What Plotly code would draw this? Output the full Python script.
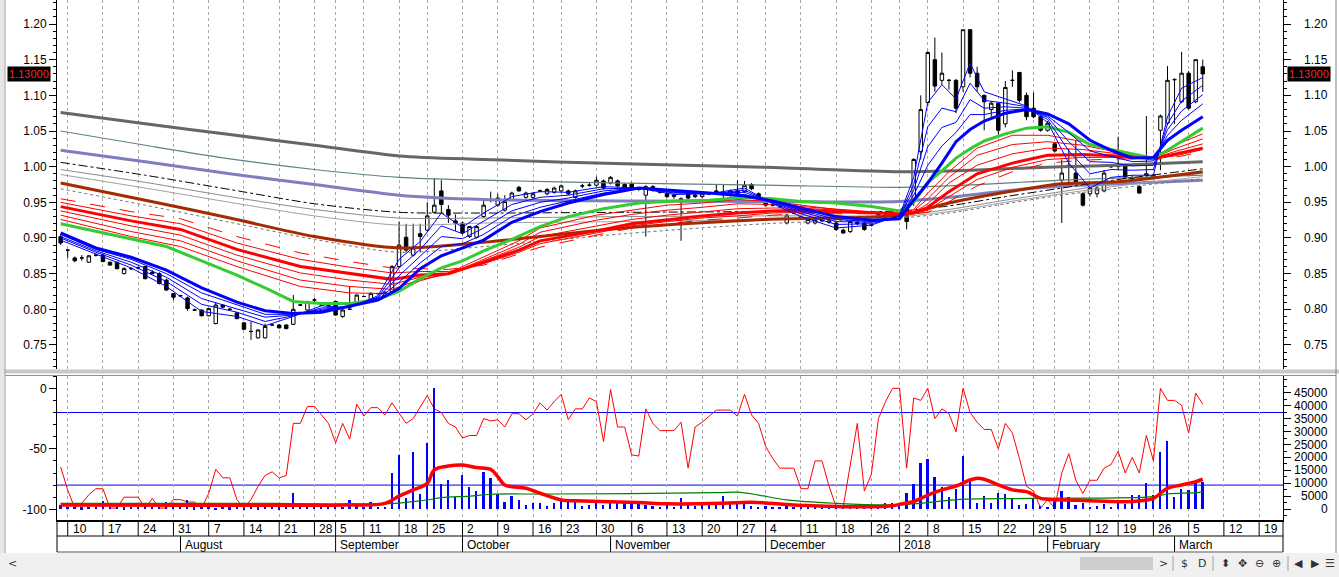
import plotly.graph_objects as go

# ---------------- DATA ----------------
# bar index (trading-day slot) 0..162 ; 0 = 7 Jul 2017, 162 = 7 Mar 2018
bar_open = [.902,.883,.872,.872,.866,.876,.876,.866,.866,.850,.857,.858,.860,.852,.850,.841,.822,.819,.816,.799,
            .799,.791,.780,.806,.800,.795,.781,.769,.760,.760,.778,.778,.778,.779,.806,.799,.813,.806,.805,.811,
            .790,.800,.808,.818,.811,.822,.818,.822,.860,.901,.876,.906,.911,.936,.966,.940,.924,.921,.902,.901,
            .930,.953,.946,.939,.954,.971,.957,.957,.966,.962,.964,.966,.966,.957,.973,.974,.974,.980,.977,.980,
            .975,.976,.968,.960,.972,.964,.962,.958,.955,.962,.958,.958,.962,.966,.963,.960,.966,.965,.975,.962,
            .953,.946,.944,.921,.935,.930,.921,.921,.925,.924,.921,.911,.909,.922,.921,.918,.930,.932,.935,.933,
            .946,.953,1.021,1.090,1.150,1.121,1.121,1.121,1.112,1.192,1.131,1.100,1.080,1.089,1.060,1.121,1.132,1.100,1.082,1.070,
            1.051,1.032,.981,1.002,.991,.962,.962,.962,.966,1.000,1.000,1.002,.985,.972,.988,.984,1.051,1.061,1.122,1.091,
            1.131,1.091,1.140]
bar_high = [.905,.884,.874,.876,.876,.878,.878,.867,.867,.859,.859,.860,.861,.855,.852,.843,.823,.820,.818,.801,
            .800,.802,.810,.807,.802,.796,.782,.783,.772,.780,.779,.779,.779,.820,.807,.812,.816,.807,.806,.812,
            .801,.832,.821,.819,.824,.823,.825,.862,.923,.920,.920,.920,.950,.984,.981,.946,.933,.923,.917,.917,
            .955,.965,.962,.960,.965,.973,.965,.964,.968,.970,.972,.975,.968,.968,.976,.977,.986,.982,.987,.982,
            .977,.978,.970,.974,.974,.966,.964,.962,.957,.964,.962,.963,.964,.975,.975,.968,.981,.980,.977,.964,
            .955,.948,.946,.934,.937,.932,.928,.928,.927,.926,.923,.913,.924,.925,.923,.920,.937,.934,.937,.936,
            .948,1.012,1.100,1.162,1.181,1.160,1.123,1.123,1.192,1.192,1.140,1.101,1.092,1.090,1.120,1.135,1.133,1.104,1.104,1.072,
            1.064,1.034,1.010,1.025,1.037,.964,.972,.972,.995,1.002,1.042,1.004,.988,.974,1.071,.990,1.073,1.141,1.124,1.161,
            1.134,1.150,1.150]
bar_low = [.890,.872,.866,.868,.865,.874,.866,.861,.856,.849,.855,.856,.842,.849,.835,.826,.813,.818,.798,.798,
           .790,.790,.779,.802,.799,.786,.771,.757,.759,.759,.777,.773,.772,.778,.805,.798,.809,.805,.804,.791,
           .788,.799,.806,.817,.810,.821,.817,.820,.858,.880,.874,.880,.909,.934,.935,.921,.910,.905,.900,.899,
           .928,.950,.944,.937,.952,.965,.955,.955,.964,.960,.962,.964,.960,.955,.970,.972,.972,.968,.975,.971,
           .968,.969,.966,.902,.965,.962,.956,.955,.896,.954,.956,.956,.960,.962,.950,.958,.960,.963,.967,.954,
           .944,.944,.942,.919,.933,.926,.919,.919,.922,.920,.910,.906,.907,.918,.910,.916,.928,.930,.933,.930,
           .912,.945,1.010,1.085,1.105,1.115,1.108,1.075,1.105,1.125,1.105,1.051,1.070,1.045,1.055,1.112,1.090,1.065,1.068,1.049,
           1.049,1.020,.921,.975,.977,.944,.958,.957,.964,.998,.996,.982,.980,.962,.985,.982,.995,1.058,1.060,1.089,
           1.080,1.089,1.105]
bar_close = [.893,.883,.868,.872,.875,.876,.867,.862,.857,.857,.857,.858,.843,.850,.836,.827,.817,.819,.801,.799,
             .791,.801,.806,.803,.800,.787,.772,.769,.771,.776,.778,.774,.773,.800,.806,.811,.813,.806,.805,.792,
             .799,.800,.820,.818,.822,.822,.824,.860,.890,.883,.886,.902,.931,.946,.947,.932,.921,.907,.916,.916,
             .946,.953,.956,.951,.963,.966,.963,.962,.966,.968,.970,.973,.962,.966,.973,.974,.981,.970,.985,.973,
             .970,.971,.968,.972,.967,.964,.958,.960,.950,.956,.960,.962,.962,.963,.963,.966,.962,.974,.969,.955,
             .946,.946,.944,.932,.935,.928,.926,.926,.924,.922,.912,.907,.923,.920,.912,.918,.933,.932,.935,.933,
             .923,1.010,1.080,1.160,1.113,1.131,1.121,1.082,1.192,1.131,1.112,1.091,1.089,1.051,1.111,1.121,1.093,1.070,1.070,1.051,
             1.061,1.022,.991,1.000,.979,.946,.970,.970,.991,1.000,1.002,.984,.983,.963,.990,.988,1.071,1.121,1.122,1.131,
             1.082,1.150,1.130]

williams_r = [-65,-84,-99,-95,-88,-83,-83,-99,-99,-90,-90,-90,-99,-91,-99,-99,-92,-92,-94,-94,
              -99,-87,-67,-74,-74,-92,-99,-92,-81,-72,-69,-74,-72,-29,-29,-15,-15,-22,-29,-45,
              -29,-42,-13,-23,-16,-16,-22,-12,-20,-29,-25,-15,-6,-17,-20,-29,-32,-41,-39,-39,
              -25,-27,-26,-32,-21,-21,-26,-21,-12,-18,-11,-5,-26,-17,-17,-8,-11,-44,-1,-32,
              -32,-55,-56,-17,-29,-35,-35,-35,-28,-66,-32,-28,-23,-18,-18,-18,-23,-5,-22,-29,
              -48,-58,-66,-66,-66,-83,-83,-60,-60,-81,-98,-98,-65,-29,-85,-71,-25,-11,0,0,
              -66,-8,-10,0,-25,-17,-21,-36,0,-20,-28,-34,-34,-50,-29,-37,-58,-81,-85,-99,
              -92,-99,-70,-54,-76,-87,-76,-76,-66,-63,-52,-70,-57,-70,-39,-60,0,-10,-10,-14,
              -37,-4,-13]

volume = [1700,800,900,700,900,800,3200,800,2300,700,900,1000,1700,800,900,3000,1500,900,3600,700,
          800,900,600,800,700,900,600,800,700,900,800,700,900,6400,2600,800,900,1000,1200,1600,
          900,3600,1200,900,3000,800,1000,14100,21000,4200,22200,5900,25500,46700,9800,11300,4900,13200,8700,7200,
          14500,12000,5800,3000,5100,3600,1700,2300,2600,1300,2300,3300,3000,3900,1300,1700,3600,1700,2600,2600,
          2300,2300,2600,1700,1300,1000,2300,1000,4500,1900,1300,2600,1700,3000,5100,2600,3000,2300,1300,1000,
          1300,1000,800,1700,800,1000,800,1300,1000,1700,1300,1000,1000,1300,800,1300,1700,2300,2600,1700,
          6400,9800,18000,19300,12600,8500,4900,7700,20600,11600,2300,5100,2300,6400,5900,4200,1700,2100,4200,1300,
          1000,3900,7200,4900,1700,2600,800,1300,2100,1000,2300,2100,5500,5500,10000,5500,22200,26500,4600,7700,
          7500,10300,10700]

# moving averages at sample bars
ma_fast_idx = [0,5,10,15,20,25,29,33,37,41,45,48,51,54,57,60,64,68,72,77,82,87,92,97,101,105,110,115,119,
               121,123,125,127,129,131,134,137,140,143,146,149,152,155,157,159,162]
blue_1 = [.897,.877,.858,.832,.797,.790,.777,.790,.805,.802,.819,.870,.895,.935,.915,.935,.958,.965,.964,.972,
          .970,.961,.962,.970,.948,.930,.914,.918,.932,.985,1.090,1.115,1.095,1.145,1.105,1.095,1.085,1.062,1.005,.970,
          .985,.988,.988,1.070,1.110,1.125]
blue_2 = [.900,.880,.862,.839,.807,.796,.783,.791,.802,.803,.817,.858,.884,.917,.906,.924,.947,.957,.960,.969,
          .970,.963,.962,.967,.949,.934,.919,.920,.931,.975,1.056,1.082,1.077,1.117,1.093,1.089,1.084,1.066,1.022,.990,
          .996,.995,.996,1.060,1.092,1.114]
blue_3 = [.902,.882,.866,.845,.815,.801,.789,.792,.800,.804,.816,.847,.874,.902,.899,.914,.938,.950,.956,.966,
          .970,.964,.963,.964,.950,.937,.923,.922,.930,.967,1.028,1.055,1.062,1.094,1.082,1.084,1.082,1.069,1.035,1.007,
          1.006,1.001,1.002,1.052,1.078,1.101]
blue_4 = [.905,.884,.870,.850,.823,.806,.793,.793,.798,.804,.814,.838,.865,.888,.892,.905,.930,.943,.952,.963,
          .970,.966,.963,.961,.951,.939,.926,.923,.928,.960,1.002,1.029,1.048,1.073,1.073,1.079,1.081,1.071,1.048,1.022,
          1.015,1.007,1.008,1.044,1.065,1.088]
blue_thick = [.907,.886,.873,.855,.830,.810,.798,.794,.796,.805,.813,.829,.857,.875,.886,.897,.922,.937,.949,.961,
              .970,.967,.963,.959,.952,.942,.930,.925,.927,.953,.977,1.005,1.035,1.052,1.064,1.075,1.080,1.074,1.060,1.037,
              1.023,1.012,1.013,1.037,1.051,1.070]
green_ma = [.920,.909,.898,.888,.868,.848,.830,.811,.808,.808,.814,.825,.843,.858,.868,.882,.898,.916,.930,.941,
            .949,.952,.953,.957,.955,.951,.949,.944,.938,.950,.978,.994,1.012,1.025,1.036,1.046,1.054,1.056,1.048,1.031,
            1.024,1.018,1.012,1.023,1.035,1.054]

ma_mid_idx = [0,10,17,25,34,41,47,51,55,60,65,68,76,81,86,91,96,101,105,110,115,119,121,123,126,130,135,140,145,150,155,158,162]
red_1 = [.955,.937,.927,.902,.879,.867,.858,.857,.856,.862,.877,.887,.904,.914,.920,.925,.928,.932,.934,.934,.934,.934,.934,.936,.951,.973,.993,1.005,1.009,1.011,1.010,1.013,1.021]
red_2 = [.950,.931,.920,.893,.870,.859,.851,.853,.853,.864,.880,.892,.907,.917,.923,.928,.931,.935,.936,.936,.935,.934,.934,.939,.958,.982,.999,1.010,1.013,1.013,1.011,1.015,1.024]
red_3 = [.944,.924,.912,.884,.860,.850,.842,.848,.850,.866,.883,.896,.910,.920,.926,.931,.935,.938,.939,.937,.935,.934,.935,.943,.965,.990,1.005,1.016,1.017,1.015,1.011,1.017,1.026]
red_4 = [.938,.917,.904,.876,.851,.841,.835,.845,.849,.868,.887,.902,.917,.926,.932,.937,.941,.942,.942,.939,.936,.934,.936,.948,.977,1.002,1.018,1.026,1.024,1.018,1.012,1.021,1.032]
red_5 = [.932,.909,.896,.868,.841,.832,.828,.842,.849,.870,.891,.908,.925,.933,.939,.943,.948,.947,.944,.940,.936,.934,.938,.955,.985,1.016,1.031,1.035,1.030,1.020,1.012,1.025,1.039]
red_6 = [.926,.902,.888,.860,.832,.823,.822,.840,.851,.874,.896,.914,.932,.939,.946,.949,.954,.951,.946,.940,.935,.934,.940,.963,.993,1.026,1.044,1.044,1.035,1.021,1.013,1.030,1.046]

ma_slow_idx = [0,12,24,36,48,60,80,100,119,126,134,142,150,162]
gray_dark = [1.076,1.060,1.045,1.030,1.015,1.010,1.004,.999,.993,.994,.997,1.000,1.002,1.007]
gray_slate = [1.050,1.030,1.011,.996,.985,.981,.977,.974,.971,.973,.977,.981,.984,.988]
lavender = [1.023,1.007,.990,.975,.960,.954,.952,.951,.951,.957,.966,.973,.976,.981]
dashdot = [1.006,.988,.968,.948,.936,.935,.936,.937,.938,.945,.958,.970,.982,.997]
gray_a = [.996,.978,.958,.940,.928,.928,.930,.931,.932,.940,.953,.965,.977,.991]
gray_b = [.989,.970,.950,.931,.918,.921,.923,.926,.930,.937,.950,.962,.973,.986]
gray_dot = [.969,.946,.922,.898,.880,.888,.906,.920,.928,.935,.948,.960,.970,.983]
brown = [.977,.953,.928,.902,.886,.894,.914,.926,.932,.949,.964,.976,.979,.993]

vma_red_idx = [0,20,40,46,48,50,52,53,55,57,59,61,62,63,66,68,71,73,82,86,94,98,104,108,111,118,119,121,123,125,
               127,129,130,131,133,135,137,139,140,143,147,152,154,155,157,159,161,162]
vma_red = [1700,1600,1700,2300,5100,7500,10000,15200,16700,17100,16100,15400,12600,9400,8100,6200,3600,3300,2600,2100,
           2300,2700,1700,1300,1000,1400,1900,3000,5500,7500,9000,11300,12000,11600,9400,7500,6800,4200,3900,3600,
           3200,3000,3600,4200,8100,9400,10700,11600]
vma_green_idx = [0,30,46,50,52,54,58,61,70,93,96,99,103,110,118,122,123,128,138,155,157,161,162]
vma_green = [2300,2300,2100,3000,3600,4500,5100,5800,5900,6400,6600,5500,3600,2300,1700,2300,2600,3900,4200,4900,5900,6400,6800]

day_idx = [1,6,11,16,21,26,31,36,39,43,48,52,57,62,67,71,76,81,86,91,96,100,105,110,115,119,123,128,133,138,
           141,146,150,155,160,165,170]
day_lab = ["10","17","24","31","7","14","21","28","5","11","18","25","2","9","16","23","30","6","13","20","27",
           "4","11","18","26","2","8","15","22","29","5","12","19","26","5","12","19"]
month_idx = [17,39,57,78,100,119,140,158]
month_lab = ["August","September","October","November","December","2018","February","March"]

price_ticks = [0.75,0.80,0.85,0.90,0.95,1.00,1.05,1.10,1.15,1.20]
wr_ticks = [0,-50,-100]
vol_ticks = [0,5000,10000,15000,20000,25000,30000,35000,40000,45000]
last_label = "1.13000"

# ---------------- LAYOUT GEOMETRY ----------------
W, H = 1339, 577
ML, MR, MT, MB = 57, 56, 0, 57
PW, PH = W - ML - MR, H - MT - MB
SLOT, FIRST = 7.05, 60.65          # px per trading slot, px centre of slot 0


def pxx(px):
    return (px - ML) / PW


def pxy(py):
    return (PH + MT - py) / PH


X0, X1 = (ML - FIRST) / SLOT, (W - MR - FIRST) / SLOT
P_TOP, P_Y0, P_PX = 1.20, 24.0, 713.3   # price scale: 1.20 at y=24px, 713.3 px per unit
PMAX = P_TOP + P_Y0 / P_PX
PMIN = P_TOP - (369 - P_Y0) / P_PX
TOP_DOM = [pxy(369), 1]
BOT_DOM = [0, pxy(376)]
WR_RANGE = [-(520 - 388.3) / 1.21, (388.3 - 376) / 1.21]
VOL_RANGE = [(509.3 - 520) / 116.6 * 45000, (509.3 - 376) / 116.6 * 45000]

bars = list(range(len(bar_close)))

fig = go.Figure()


def ma(xs, ys, color, width, dash=None, shape="linear"):
    fig.add_trace(go.Scatter(x=xs, y=ys, mode="lines", xaxis="x", yaxis="y", hoverinfo="skip",
                             line=dict(color=color, width=width, dash=dash, shape=shape, smoothing=0.8)))


ma(ma_slow_idx, gray_dark, "#666666", 3, shape="spline")
ma(ma_slow_idx, gray_slate, "#5f8080", 1.2, shape="spline")
ma(ma_slow_idx, lavender, "#7f7fc0", 3, shape="spline")
ma(ma_slow_idx, dashdot, "#000000", 1, dash="dashdot", shape="spline")
ma(ma_slow_idx, gray_a, "#8c8c8c", 1, shape="spline")
ma(ma_slow_idx, gray_b, "#a0a0a0", 1, shape="spline")
ma(ma_slow_idx, gray_dot, "#707070", 1, dash="dot", shape="spline")
ma(ma_slow_idx, brown, "#a52a00", 3, shape="spline")
ma(ma_mid_idx, red_1, "#ff0000", 1, dash="longdash")
for r in (red_2, red_4, red_5, red_6):
    ma(ma_mid_idx, r, "#ff0000", 1)
ma(ma_mid_idx, red_3, "#ff0000", 3)
ma(ma_fast_idx, green_ma, "#33cc33", 3)
for b in (blue_1, blue_2, blue_3, blue_4):
    ma(ma_fast_idx, b, "#0000ff", 1)
ma(ma_fast_idx, blue_thick, "#0000ff", 3)

fig.add_trace(go.Candlestick(x=bars, open=bar_open, high=bar_high, low=bar_low, close=bar_close,
                             xaxis="x", yaxis="y", whiskerwidth=0, hoverinfo="skip",
                             increasing=dict(line=dict(color="black", width=1), fillcolor="white"),
                             decreasing=dict(line=dict(color="black", width=1), fillcolor="black")))
fig.add_trace(go.Scatter(x=[bars[-1]], y=[bar_close[-1]], xaxis="x", yaxis="y3", mode="markers",
                         marker=dict(opacity=0), hoverinfo="skip"))

# lower panel
fig.add_trace(go.Scatter(x=bars, y=williams_r, xaxis="x2", yaxis="y2", mode="lines",
                         line=dict(color="#ff0000", width=1), hoverinfo="skip"))
fig.add_trace(go.Bar(x=bars, y=volume, xaxis="x2", yaxis="y4", width=0.25,
                     marker=dict(color="#0000ff", line=dict(width=0)), hoverinfo="skip"))
fig.add_trace(go.Scatter(x=vma_green_idx, y=vma_green, xaxis="x2", yaxis="y4", mode="lines",
                         line=dict(color="#008000", width=1.2, shape="spline"), hoverinfo="skip"))
fig.add_trace(go.Scatter(x=vma_red_idx, y=vma_red, xaxis="x2", yaxis="y4", mode="lines",
                         line=dict(color="#ff0000", width=3.5, shape="spline"), hoverinfo="skip"))

grid = dict(showgrid=True, gridcolor="#a8a8a8", griddash="3px,3px", gridwidth=1)
ax_common = dict(ticks="outside", ticklen=7, tickcolor="black", showgrid=False, zeroline=False,
                 showline=True, linecolor="black", linewidth=1, fixedrange=True)

fig.update_layout(
    width=W, height=H, margin=dict(l=ML, r=MR, t=MT, b=MB, pad=0),
    paper_bgcolor="white", plot_bgcolor="white", showlegend=False, hovermode=False,
    font=dict(family="Liberation Sans, Arial, sans-serif", size=12, color="black"),
    bargap=0,
    xaxis=dict(domain=[0, 1], anchor="y", range=[X0, X1], tickvals=day_idx, showticklabels=False, ticks="",
               zeroline=False, showline=False, rangeslider=dict(visible=False), fixedrange=True, **grid),
    xaxis2=dict(domain=[0, 1], anchor="y2", range=[X0, X1], tickvals=day_idx, showticklabels=False, ticks="",
                zeroline=False, showline=True, linecolor="black", linewidth=2,
                rangeslider=dict(visible=False), fixedrange=True, **grid),
    yaxis=dict(domain=TOP_DOM, anchor="x", range=[PMIN, PMAX], tickvals=price_ticks,
               ticktext=[f"{v:.2f}" for v in price_ticks],
               minor=dict(dtick=0.01, tick0=0.75, ticks="outside", ticklen=3, tickcolor="black", showgrid=False),
               **ax_common),
    yaxis3=dict(overlaying="y", side="right", anchor="x", range=[PMIN, PMAX], tickvals=price_ticks,
                showticklabels=False,
                minor=dict(dtick=0.01, tick0=0.75, ticks="outside", ticklen=3, tickcolor="black", showgrid=False),
                **ax_common),
    yaxis2=dict(domain=BOT_DOM, anchor="x2", range=WR_RANGE, tickvals=wr_ticks,
                ticktext=[str(v) for v in wr_ticks],
                minor=dict(dtick=10, tick0=0, ticks="outside", ticklen=3, tickcolor="black", showgrid=False),
                **ax_common),
    yaxis4=dict(overlaying="y2", side="right", anchor="x2", range=VOL_RANGE, tickvals=vol_ticks,
                showticklabels=False,
                minor=dict(dtick=2500, tick0=0, ticks="outside", ticklen=3, tickcolor="black", showgrid=False),
                **ax_common),
)

shapes = []
ann = []

# reference levels in the lower panel
for lvl in (-20, -80):
    shapes.append(dict(type="line", xref="paper", yref="y2", x0=0, x1=1, y0=lvl, y1=lvl,
                       line=dict(color="#0000ff", width=1), layer="below"))

# date rows
for i, lab in zip(day_idx, day_lab):
    shapes.append(dict(type="line", xref="x", yref="paper", x0=i, x1=i, y0=pxy(520), y1=pxy(536),
                       line=dict(color="black", width=1)))
    ann.append(dict(x=i + 0.4, y=pxy(528.5), xref="x", yref="paper", text=lab, showarrow=False,
                    xanchor="left", yanchor="middle", font=dict(size=12)))
for i, lab in zip(month_idx, month_lab):
    shapes.append(dict(type="line", xref="x", yref="paper", x0=i, x1=i, y0=pxy(536), y1=pxy(552),
                       line=dict(color="black", width=1)))
    ann.append(dict(x=i + 0.4, y=pxy(544.5), xref="x", yref="paper", text=lab, showarrow=False,
                    xanchor="left", yanchor="middle", font=dict(size=12)))
for yy, col in ((536, "black"), (552, "#555555")):
    shapes.append(dict(type="line", xref="paper", yref="paper", x0=0, x1=1, y0=pxy(yy), y1=pxy(yy),
                       line=dict(color=col, width=1)))
for xx in (0, 1):
    shapes.append(dict(type="line", xref="paper", yref="paper", x0=xx, x1=xx, y0=pxy(520), y1=pxy(552),
                       line=dict(color="black", width=1)))

# window frame / separators
shapes += [
    dict(type="rect", xref="paper", yref="paper", x0=pxx(0), x1=pxx(W), y0=pxy(369.5), y1=pxy(373.5),
         fillcolor="#c8c8c8", line=dict(width=0)),
    dict(type="line", xref="paper", yref="paper", x0=pxx(5), x1=pxx(1336), y0=pxy(375.5), y1=pxy(375.5),
         line=dict(color="#909090", width=1)),
    dict(type="rect", xref="paper", yref="paper", x0=pxx(0), x1=pxx(4.5), y0=pxy(0), y1=pxy(553),
         fillcolor="#e6e6e6", line=dict(width=0)),
    dict(type="line", xref="paper", yref="paper", x0=pxx(5), x1=pxx(5), y0=pxy(0), y1=pxy(553),
         line=dict(color="#a0a0a0", width=1)),
    dict(type="line", xref="paper", yref="paper", x0=pxx(1336), x1=pxx(1336), y0=pxy(0), y1=pxy(553),
         line=dict(color="#808080", width=1)),
    dict(type="rect", xref="paper", yref="paper", x0=pxx(0), x1=pxx(W), y0=pxy(553), y1=pxy(H),
         fillcolor="#f0f0f0", line=dict(width=0)),
    dict(type="rect", xref="paper", yref="paper", x0=pxx(1080), x1=pxx(1153), y0=pxy(557), y1=pxy(570),
         fillcolor="#cdcdcd", line=dict(width=0)),
]
for xx in (1173, 1213, 1288):
    shapes.append(dict(type="line", xref="paper", yref="paper", x0=pxx(xx), x1=pxx(xx),
                       y0=pxy(556), y1=pxy(571), line=dict(color="#a0a0a0", width=1)))

# right-hand tick labels (right aligned)
for v in price_ticks:
    ann.append(dict(x=pxx(1330), y=v, xref="paper", yref="y", text=f"{v:.2f}", showarrow=False,
                    xanchor="right", yanchor="middle", font=dict(size=12)))
for v in vol_ticks:
    ann.append(dict(x=pxx(1330), y=v, xref="paper", yref="y4", text=str(v), showarrow=False,
                    xanchor="right", yanchor="middle", font=dict(size=12)))

# last price boxes
for cx in (29, 1309):
    ann.append(dict(x=pxx(cx), y=bar_close[-1], xref="paper", yref="y", text=last_label, showarrow=False,
                    xanchor="center", yanchor="middle", bgcolor="black", borderpad=1,
                    font=dict(size=11, color="#ff2020")))

# scrollbar icons
for cx, sym in ((12, "<"), (1163, ">"), (1184, "$"), (1202, "D"), (1225, "⬍"), (1242, "✥"),
                (1259, "⊖"), (1276, "⊕"), (1298, "◀"), (1316, "▶"), (1330, "☰")):
    ann.append(dict(x=pxx(cx), y=pxy(563.5), xref="paper", yref="paper", text=sym, showarrow=False,
                    xanchor="center", yanchor="middle",
                    font=dict(size=11, family="DejaVu Sans", color="#303030")))

fig.update_layout(shapes=shapes, annotations=ann)
fig.write_html("out.html", config={"displayModeBar": False},
               post_script="document.body.style.margin='0';document.body.style.padding='0';"
                           "document.body.style.overflow='hidden';")
